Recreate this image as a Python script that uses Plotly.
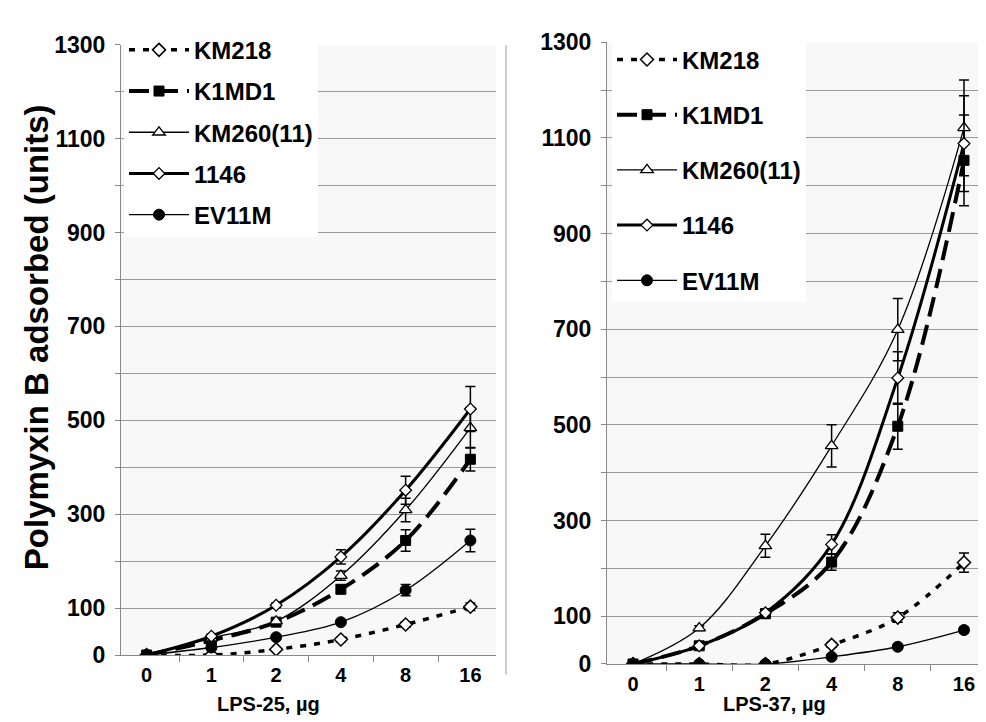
import plotly.graph_objects as go

# ---------------- data ----------------
doses = ["0", "1", "2", "4", "8", "16"]
series_names = ["KM218", "K1MD1", "KM260(11)", "1146", "EV11M"]

# LPS-25 panel
lps25_km218 = [0, 0, 12, 33, 65, 103]
lps25_km218_err = [3, 3, 4, 5, 6, 8]
lps25_k1md1 = [0, 31, 70, 140, 244, 417]
lps25_k1md1_err = [3, 4, 5, 8, 23, 25]
lps25_km260 = [0, 36, 72, 169, 309, 484]
lps25_km260_err = [3, 4, 5, 10, 25, 43]
lps25_1146 = [0, 40, 106, 209, 351, 524]
lps25_1146_err = [3, 4, 5, 15, 30, 48]
lps25_ev11m = [0, 16, 38, 70, 138, 244]
lps25_ev11m_err = [2, 3, 4, 5, 12, 24]

# LPS-37 panel
lps37_km218 = [0, 0, 0, 40, 97, 212]
lps37_km218_err = [2, 2, 2, 5, 10, 20]
lps37_k1md1 = [0, 38, 105, 213, 497, 1053]
lps37_k1md1_err = [3, 5, 8, 17, 48, 95]
lps37_km260 = [0, 75, 247, 456, 699, 1121]
lps37_km260_err = [3, 5, 24, 44, 65, 100]
lps37_1146 = [0, 38, 107, 250, 598, 1088]
lps37_1146_err = [3, 5, 8, 20, 55, 100]
lps37_ev11m = [0, 0, 0, 15, 36, 71]
lps37_ev11m_err = [2, 2, 2, 4, 5, 6]

y_tickvals = [0, 100, 200, 300, 400, 500, 600, 700, 800, 900, 1000, 1100, 1200, 1300]
y_ticktext = ["0", "100", "", "300", "", "500", "", "700", "", "900", "", "1100", "", "1300"]

# ---------------- styles ----------------
styles = {
    "KM218": dict(line=dict(color="black", width=3.5, dash="6px,8px", shape="spline"),
                  marker=dict(symbol="diamond", size=10, color="white",
                              line=dict(color="black", width=1.5))),
    "K1MD1": dict(line=dict(color="black", width=4, dash="20px,9px", shape="spline"),
                  marker=dict(symbol="square", size=10, color="black",
                              line=dict(color="black", width=1))),
    "KM260(11)": dict(line=dict(color="black", width=1.3, shape="spline"),
                      marker=dict(symbol="triangle-up", size=11, color="white",
                                  line=dict(color="black", width=1.3))),
    "1146": dict(line=dict(color="black", width=3, shape="spline"),
                 marker=dict(symbol="diamond", size=9, color="white",
                             line=dict(color="black", width=1.3))),
    "EV11M": dict(line=dict(color="black", width=1.3, shape="spline"),
                  marker=dict(symbol="circle", size=11, color="black",
                              line=dict(color="black", width=1))),
}

panel25 = [lps25_km218, lps25_k1md1, lps25_km260, lps25_1146, lps25_ev11m]
panel25_err = [lps25_km218_err, lps25_k1md1_err, lps25_km260_err, lps25_1146_err, lps25_ev11m_err]
panel37 = [lps37_km218, lps37_k1md1, lps37_km260, lps37_1146, lps37_ev11m]
panel37_err = [lps37_km218_err, lps37_k1md1_err, lps37_km260_err, lps37_1146_err, lps37_ev11m_err]

fig = go.Figure()

for name, vals, errs in zip(series_names, panel25, panel25_err):
    st = styles[name]
    fig.add_trace(go.Scatter(
        x=doses, y=vals, name=name, mode="lines+markers",
        line=st["line"], marker=st["marker"],
        error_y=dict(type="data", array=errs, visible=True, color="black",
                     thickness=1.5, width=5),
        xaxis="x", yaxis="y", legend="legend", legendgroup="a" + name,
    ))

for name, vals, errs in zip(series_names, panel37, panel37_err):
    st = styles[name]
    fig.add_trace(go.Scatter(
        x=doses, y=vals, name=name, mode="lines+markers",
        line=st["line"], marker=st["marker"],
        error_y=dict(type="data", array=errs, visible=True, color="black",
                     thickness=1.5, width=5),
        xaxis="x2", yaxis="y2", legend="legend2", legendgroup="b" + name,
    ))

W, H = 986, 722
FONT = "Liberation Sans, Arial, sans-serif"

def px_x(p):
    return p / W

def px_y(p):
    return 1 - p / H

xaxis_common = dict(
    type="category", tickson="boundaries", ticks="outside", ticklen=6,
    tickcolor="#888", showline=True, linecolor="#888", linewidth=1,
    showgrid=False, zeroline=False, ticklabelstandoff=2,
    tickfont=dict(family=FONT, size=20, color="black", weight="bold"),
)
yaxis_common = dict(
    range=[0, 1300], tickvals=y_tickvals, ticktext=y_ticktext,
    ticks="outside", ticklen=5, tickcolor="#888", ticklabelstandoff=5,
    showline=True, linecolor="#888", linewidth=1,
    showgrid=True, gridcolor="#9a9a9a", gridwidth=1, zeroline=False,
    tickfont=dict(family=FONT, size=23, color="black", weight="bold"),
)

fig.update_layout(
    width=W, height=H,
    margin=dict(l=0, r=0, t=0, b=0),
    paper_bgcolor="white", plot_bgcolor="#f8f8f8",
    font=dict(family=FONT, color="black"),
    xaxis=dict(domain=[px_x(113), px_x(488)], anchor="y", **xaxis_common),
    yaxis=dict(domain=[px_y(657.7), px_y(24.6)], anchor="x", **yaxis_common),
    xaxis2=dict(domain=[px_x(599), px_x(982)], anchor="y2", **xaxis_common),
    yaxis2=dict(domain=[px_y(667), px_y(22)], anchor="x2", **yaxis_common),
    legend=dict(
        x=px_x(116), y=px_y(7), xanchor="left", yanchor="top",
        bgcolor="white", borderwidth=0, traceorder="grouped",
        tracegroupgap=7, itemwidth=60,
        font=dict(family=FONT, size=24, color="black", weight="bold"),
    ),
    legend2=dict(
        x=px_x(604), y=px_y(17), xanchor="left", yanchor="top",
        bgcolor="white", borderwidth=0, traceorder="grouped",
        tracegroupgap=21, itemwidth=60,
        font=dict(family=FONT, size=24, color="black", weight="bold"),
    ),
    annotations=[
        dict(text="Polymyxin B adsorbed (units)", x=px_x(28), y=px_y(328),
             xref="paper", yref="paper", showarrow=False, textangle=-90,
             xanchor="center", yanchor="middle",
             font=dict(family=FONT, size=33, color="black", weight="bold")),
        dict(text="LPS-25, µg", x=px_x(260), y=px_y(709),
             xref="paper", yref="paper", showarrow=False,
             xanchor="center", yanchor="middle",
             font=dict(family=FONT, size=20, color="black", weight="bold")),
        dict(text="LPS-37, µg", x=px_x(766), y=px_y(709),
             xref="paper", yref="paper", showarrow=False,
             xanchor="center", yanchor="middle",
             font=dict(family=FONT, size=20, color="black", weight="bold")),
    ],
    shapes=[
        dict(type="line", xref="paper", yref="paper",
             x0=px_x(498), x1=px_x(498), y0=px_y(25), y1=px_y(678),
             line=dict(color="#999", width=1)),
    ],
)

fig.write_html("out.html")
